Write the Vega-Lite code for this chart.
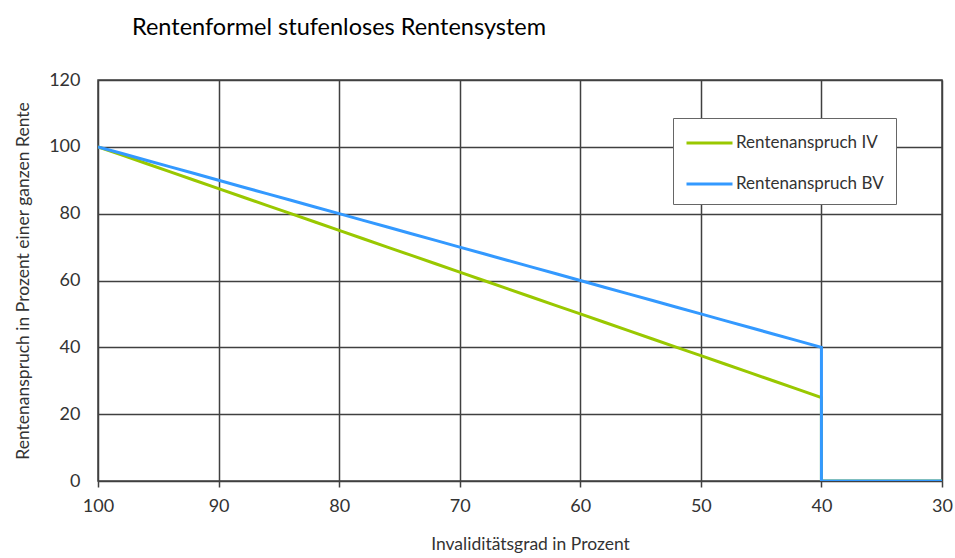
{
  "$schema": "https://vega.github.io/schema/vega-lite/v6.json",
  "width": 844,
  "height": 401,
  "autosize": {"type": "none"},
  "padding": {"left": 98, "top": 80, "right": 13, "bottom": 77},
  "background": "white",
  "title": {
    "text": "Rentenformel stufenloses Rentensystem",
    "anchor": "start",
    "frame": "group",
    "dx": 34,
    "offset": 32,
    "font": "Lato",
    "fontSize": 23.5,
    "fontWeight": "normal",
    "color": "#000000"
  },
  "config": {
    "view": {"stroke": "#404040", "strokeWidth": 1.5},
    "font": "Lato"
  },
  "data": {
    "values": [
      {"s": "Rentenanspruch IV", "o": 0, "x": 100, "y": 100},
      {"s": "Rentenanspruch IV", "o": 1, "x": 98, "y": 97.5},
      {"s": "Rentenanspruch IV", "o": 2, "x": 96, "y": 95},
      {"s": "Rentenanspruch IV", "o": 3, "x": 94, "y": 92.5},
      {"s": "Rentenanspruch IV", "o": 4, "x": 92, "y": 90},
      {"s": "Rentenanspruch IV", "o": 5, "x": 90, "y": 87.5},
      {"s": "Rentenanspruch IV", "o": 6, "x": 88, "y": 85},
      {"s": "Rentenanspruch IV", "o": 7, "x": 86, "y": 82.5},
      {"s": "Rentenanspruch IV", "o": 8, "x": 84, "y": 80},
      {"s": "Rentenanspruch IV", "o": 9, "x": 82, "y": 77.5},
      {"s": "Rentenanspruch IV", "o": 10, "x": 80, "y": 75},
      {"s": "Rentenanspruch IV", "o": 11, "x": 78, "y": 72.5},
      {"s": "Rentenanspruch IV", "o": 12, "x": 76, "y": 70},
      {"s": "Rentenanspruch IV", "o": 13, "x": 74, "y": 67.5},
      {"s": "Rentenanspruch IV", "o": 14, "x": 72, "y": 65},
      {"s": "Rentenanspruch IV", "o": 15, "x": 70, "y": 62.5},
      {"s": "Rentenanspruch IV", "o": 16, "x": 68, "y": 60},
      {"s": "Rentenanspruch IV", "o": 17, "x": 66, "y": 57.5},
      {"s": "Rentenanspruch IV", "o": 18, "x": 64, "y": 55},
      {"s": "Rentenanspruch IV", "o": 19, "x": 62, "y": 52.5},
      {"s": "Rentenanspruch IV", "o": 20, "x": 60, "y": 50},
      {"s": "Rentenanspruch IV", "o": 21, "x": 58, "y": 47.5},
      {"s": "Rentenanspruch IV", "o": 22, "x": 56, "y": 45},
      {"s": "Rentenanspruch IV", "o": 23, "x": 54, "y": 42.5},
      {"s": "Rentenanspruch IV", "o": 24, "x": 52, "y": 40},
      {"s": "Rentenanspruch IV", "o": 25, "x": 50, "y": 37.5},
      {"s": "Rentenanspruch IV", "o": 26, "x": 48, "y": 35},
      {"s": "Rentenanspruch IV", "o": 27, "x": 46, "y": 32.5},
      {"s": "Rentenanspruch IV", "o": 28, "x": 44, "y": 30},
      {"s": "Rentenanspruch IV", "o": 29, "x": 42, "y": 27.5},
      {"s": "Rentenanspruch IV", "o": 30, "x": 40, "y": 25},
      {"s": "Rentenanspruch IV", "o": 31, "x": 40, "y": 0},
      {"s": "Rentenanspruch IV", "o": 32, "x": 30, "y": 0},
      {"s": "Rentenanspruch BV", "o": 0, "x": 100, "y": 100},
      {"s": "Rentenanspruch BV", "o": 1, "x": 98, "y": 98},
      {"s": "Rentenanspruch BV", "o": 2, "x": 96, "y": 96},
      {"s": "Rentenanspruch BV", "o": 3, "x": 94, "y": 94},
      {"s": "Rentenanspruch BV", "o": 4, "x": 92, "y": 92},
      {"s": "Rentenanspruch BV", "o": 5, "x": 90, "y": 90},
      {"s": "Rentenanspruch BV", "o": 6, "x": 88, "y": 88},
      {"s": "Rentenanspruch BV", "o": 7, "x": 86, "y": 86},
      {"s": "Rentenanspruch BV", "o": 8, "x": 84, "y": 84},
      {"s": "Rentenanspruch BV", "o": 9, "x": 82, "y": 82},
      {"s": "Rentenanspruch BV", "o": 10, "x": 80, "y": 80},
      {"s": "Rentenanspruch BV", "o": 11, "x": 78, "y": 78},
      {"s": "Rentenanspruch BV", "o": 12, "x": 76, "y": 76},
      {"s": "Rentenanspruch BV", "o": 13, "x": 74, "y": 74},
      {"s": "Rentenanspruch BV", "o": 14, "x": 72, "y": 72},
      {"s": "Rentenanspruch BV", "o": 15, "x": 70, "y": 70},
      {"s": "Rentenanspruch BV", "o": 16, "x": 68, "y": 68},
      {"s": "Rentenanspruch BV", "o": 17, "x": 66, "y": 66},
      {"s": "Rentenanspruch BV", "o": 18, "x": 64, "y": 64},
      {"s": "Rentenanspruch BV", "o": 19, "x": 62, "y": 62},
      {"s": "Rentenanspruch BV", "o": 20, "x": 60, "y": 60},
      {"s": "Rentenanspruch BV", "o": 21, "x": 58, "y": 58},
      {"s": "Rentenanspruch BV", "o": 22, "x": 56, "y": 56},
      {"s": "Rentenanspruch BV", "o": 23, "x": 54, "y": 54},
      {"s": "Rentenanspruch BV", "o": 24, "x": 52, "y": 52},
      {"s": "Rentenanspruch BV", "o": 25, "x": 50, "y": 50},
      {"s": "Rentenanspruch BV", "o": 26, "x": 48, "y": 48},
      {"s": "Rentenanspruch BV", "o": 27, "x": 46, "y": 46},
      {"s": "Rentenanspruch BV", "o": 28, "x": 44, "y": 44},
      {"s": "Rentenanspruch BV", "o": 29, "x": 42, "y": 42},
      {"s": "Rentenanspruch BV", "o": 30, "x": 40, "y": 40},
      {"s": "Rentenanspruch BV", "o": 31, "x": 40, "y": 0},
      {"s": "Rentenanspruch BV", "o": 32, "x": 30, "y": 0}
    ]
  },
  "mark": {"type": "line", "strokeWidth": 3, "clip": true},
  "encoding": {
    "x": {
      "field": "x",
      "type": "quantitative",
      "scale": {"domain": [100, 30], "nice": false, "zero": false},
      "axis": {
        "values": [100, 90, 80, 70, 60, 50, 40, 30],
        "title": "Invaliditätsgrad in Prozent",
        "titleFont": "Lato",
        "titleFontSize": 17.5,
        "titleFontWeight": "normal",
        "titleColor": "#333333",
        "titlePadding": 20,
        "titleX": 432,
        "labelFont": "Lato",
        "labelFontSize": 18,
        "labelColor": "#333333",
        "labelPadding": 10,
        "labelFlush": false,
        "tickSize": 6,
        "tickColor": "#404040",
        "tickWidth": 1.5,
        "domain": false,
        "grid": true,
        "gridColor": "#404040",
        "gridWidth": 1.5,
        "gridOpacity": 1
      }
    },
    "y": {
      "field": "y",
      "type": "quantitative",
      "scale": {"domain": [0, 120], "nice": false},
      "axis": {
        "values": [0, 20, 40, 60, 80, 100, 120],
        "title": "Rentenanspruch in Prozent einer ganzen Rente",
        "titleFont": "Lato",
        "titleFontSize": 17.5,
        "titleFontWeight": "normal",
        "titleColor": "#333333",
        "titlePadding": 16,
        "labelFont": "Lato",
        "labelFontSize": 18,
        "labelColor": "#333333",
        "labelPadding": 18,
        "ticks": false,
        "domain": false,
        "grid": true,
        "gridColor": "#404040",
        "gridWidth": 1.5,
        "gridOpacity": 1
      }
    },
    "color": {
      "field": "s",
      "type": "nominal",
      "scale": {
        "domain": ["Rentenanspruch IV", "Rentenanspruch BV"],
        "range": ["#99c800", "#3399ff"]
      },
      "legend": {
        "title": null,
        "orient": "none",
        "legendX": 575,
        "legendY": 38,
        "direction": "vertical",
        "fillColor": "white",
        "strokeColor": "#666666",
        "padding": 12,
        "rowPadding": 20,
        "symbolType": "M-1,0H3",
        "symbolSize": 529,
        "symbolStrokeWidth": 3,
        "labelFont": "Lato",
        "labelFontSize": 17,
        "labelColor": "#333333",
        "labelOffset": 25
      }
    },
    "order": {"field": "o", "type": "quantitative"}
  }
}
